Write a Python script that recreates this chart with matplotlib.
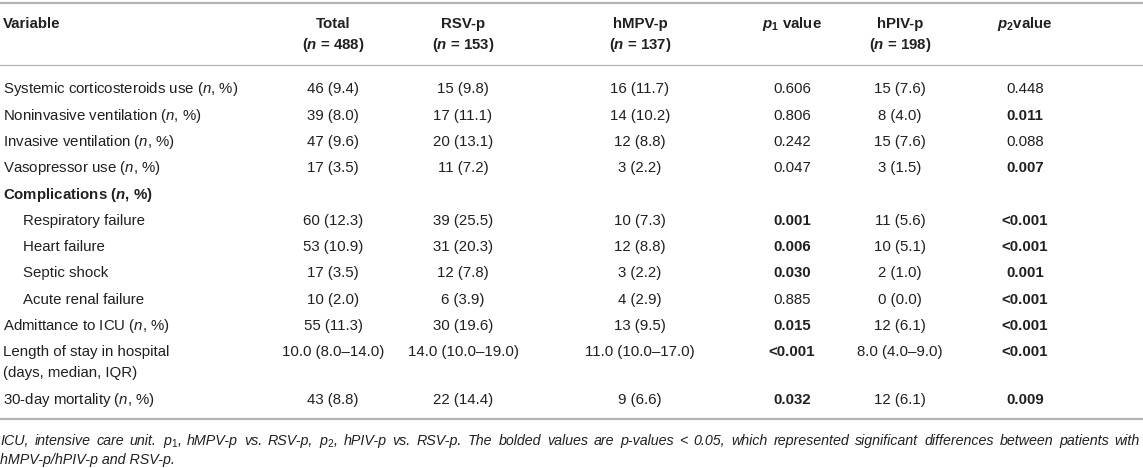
import matplotlib.pyplot as plt

plt.rcParams['font.family'] = 'Liberation Sans'
plt.rcParams['mathtext.fontset'] = 'custom'
plt.rcParams['mathtext.rm'] = 'Liberation Sans'
plt.rcParams['mathtext.it'] = 'Liberation Sans:italic'
plt.rcParams['mathtext.bf'] = 'Liberation Sans:bold'
plt.rcParams['mathtext.bfit'] = 'Liberation Sans:italic:bold'

# Table content
headers = ['Total', 'RSV-p', 'hMPV-p', '$\\mathbfit{p}_{\\mathbf{1}}$ value', 'hPIV-p', '$\\mathbfit{p}_{\\mathbf{2}}$value']
header_n = ['($\\mathbfit{n}$ = 488)', '($\\mathbfit{n}$ = 153)', '($\\mathbfit{n}$ = 137)', '',
            '($\\mathbfit{n}$ = 198)', '']

variables = [
    'Systemic corticosteroids use ($n$, %)',
    'Noninvasive ventilation ($n$, %)',
    'Invasive ventilation ($n$, %)',
    'Vasopressor use ($n$, %)',
    'Complications ($\\mathbfit{n}$, %)',
    'Respiratory failure',
    'Heart failure',
    'Septic shock',
    'Acute renal failure',
    'Admittance to ICU ($n$, %)',
    'Length of stay in hospital\n(days, median, IQR)',
    '30-day mortality ($n$, %)',
]
is_group = [False, False, False, False, True, False, False, False, False, False, False, False]
is_sub = [False, False, False, False, False, True, True, True, True, False, False, False]

total = ['46 (9.4)', '39 (8.0)', '47 (9.6)', '17 (3.5)', '', '60 (12.3)', '53 (10.9)', '17 (3.5)',
         '10 (2.0)', '55 (11.3)', '10.0 (8.0–14.0)', '43 (8.8)']
rsv = ['15 (9.8)', '17 (11.1)', '20 (13.1)', '11 (7.2)', '', '39 (25.5)', '31 (20.3)', '12 (7.8)',
       '6 (3.9)', '30 (19.6)', '14.0 (10.0–19.0)', '22 (14.4)']
hmpv = ['16 (11.7)', '14 (10.2)', '12 (8.8)', '3 (2.2)', '', '10 (7.3)', '12 (8.8)', '3 (2.2)',
        '4 (2.9)', '13 (9.5)', '11.0 (10.0–17.0)', '9 (6.6)']
p1 = ['0.606', '0.806', '0.242', '0.047', '', '0.001', '0.006', '0.030', '0.885', '0.015', '<0.001', '0.032']
p1_bold = [False, False, False, False, False, True, True, True, False, True, True, True]
hpiv = ['15 (7.6)', '8 (4.0)', '15 (7.6)', '3 (1.5)', '', '11 (5.6)', '10 (5.1)', '2 (1.0)',
        '0 (0.0)', '12 (6.1)', '8.0 (4.0–9.0)', '12 (6.1)']
p2 = ['0.448', '0.011', '0.088', '0.007', '', '<0.001', '<0.001', '0.001', '<0.001', '<0.001', '<0.001', '0.009']
p2_bold = [False, True, False, True, False, True, True, True, True, True, True, True]

footnote = ['ICU, intensive care unit. $\\mathit{p_1}$, hMPV-p vs. RSV-p, $\\mathit{p_2}$, hPIV-p vs. RSV-p. '
            'The bolded values are p-values < 0.05, which represented significant differences between patients with',
            'hMPV-p/hPIV-p and RSV-p.']

# Layout (pixels)
W, H = 1143, 468
col_x = [333, 463, 640, 792, 900, 1025]
fs = 10.8
txt_col = '#231f20'
line_col = '#b3b3b3'
row_h = 26.3
line_h = 21
base_off = 5.3  # baseline below visual centre

fig = plt.figure(figsize=(W / 100, H / 100), dpi=100)
ax = fig.add_axes([0, 0, 1, 1])
ax.set_xlim(0, W)
ax.set_ylim(H, 0)
ax.axis('off')

# rules
ax.axhline(3, color=line_col, lw=1.6)
ax.axhline(65, color=line_col, lw=0.9)
ax.axhline(419, color=line_col, lw=1.6)

# header
ax.text(3, 23 + base_off, 'Variable', fontsize=fs, fontweight='bold', color=txt_col, va='baseline')
for x, h1, h2 in zip(col_x, headers, header_n):
    ax.text(x, 23 + base_off, h1, fontsize=fs, fontweight='bold', color=txt_col, ha='center', va='baseline')
    if h2:
        ax.text(x, 44 + base_off, h2, fontsize=fs, fontweight='bold', color=txt_col, ha='center', va='baseline')

# body
y = 88
columns = [total, rsv, hmpv, p1, hpiv, p2]
for i, var in enumerate(variables):
    lines = var.split('\n')
    x0 = 23 if is_sub[i] else 3
    for k, ln in enumerate(lines):
        ax.text(x0, y + k * line_h + base_off, ln, fontsize=fs, color=txt_col, va='baseline',
                fontweight='bold' if is_group[i] else 'normal')
    for j, (x, col) in enumerate(zip(col_x, columns)):
        bold = (j == 3 and p1_bold[i]) or (j == 5 and p2_bold[i])
        ax.text(x, y + base_off, col[i], fontsize=fs, color=txt_col, ha='center', va='baseline',
                fontweight='bold' if bold else 'normal')
    y += row_h + line_h * (len(lines) - 1)

# footnote, first line justified to the full width
renderer = fig.canvas.get_renderer()
fy = 440 + base_off
words = footnote[0].split(' ')
objs = [ax.text(0, fy, w, fontsize=fs * 0.95, style='italic', color=txt_col, va='baseline') for w in words]
widths = [o.get_window_extent(renderer).width for o in objs]
gap = (1140 - sum(widths)) / (len(words) - 1)
x = 0
for o, wd in zip(objs, widths):
    o.set_x(x)
    x += wd + gap
ax.text(0, fy + 18.5, footnote[1], fontsize=fs * 0.95, style='italic', color=txt_col, va='baseline')

fig.savefig('out.png', dpi=100)
